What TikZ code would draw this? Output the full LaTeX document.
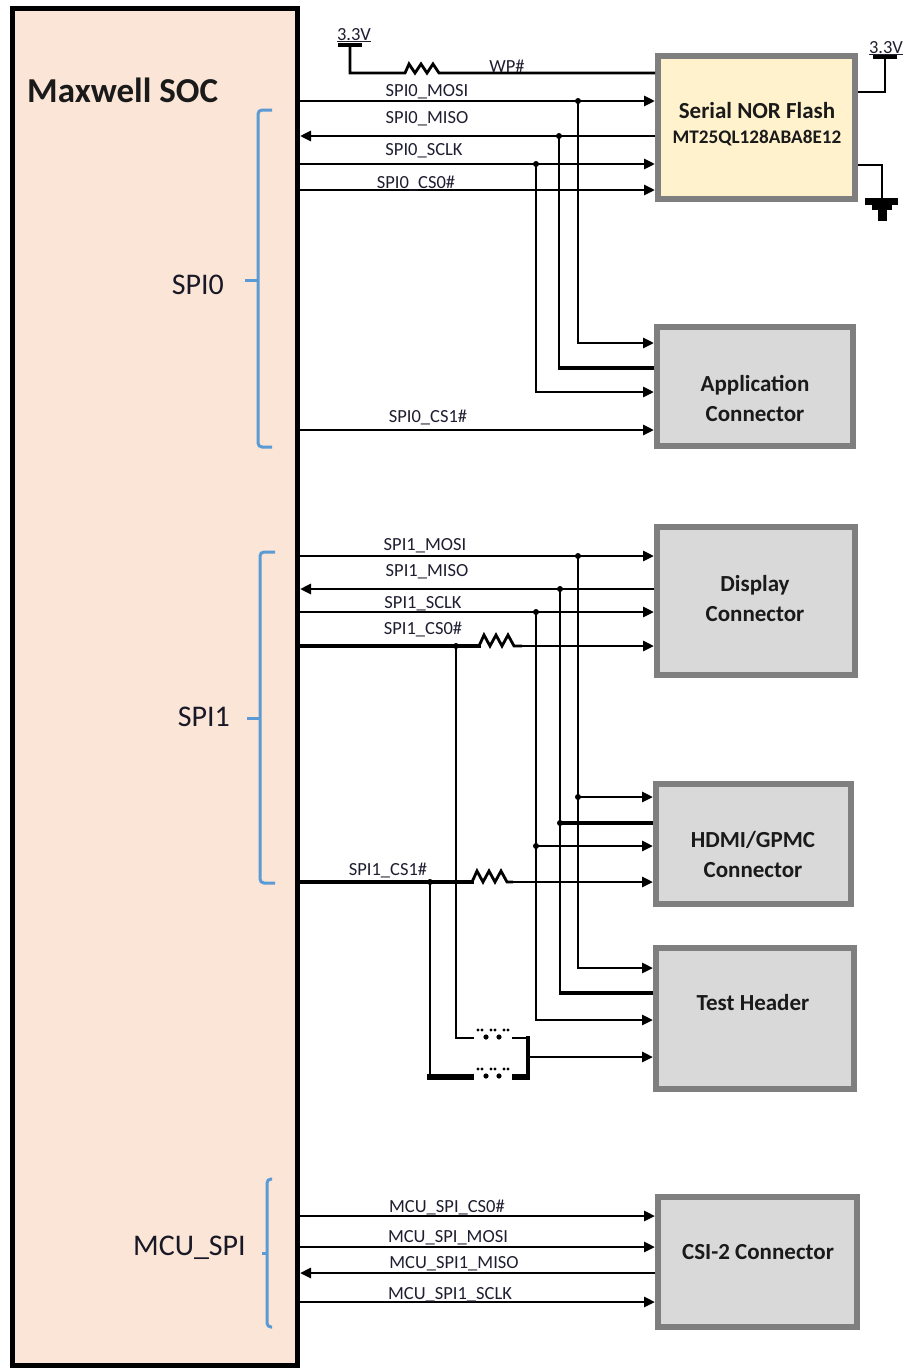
\documentclass[tikz,border=0pt]{standalone}
\usepackage{fontspec}
\setmainfont{Carlito}
\usetikzlibrary{arrows.meta}
\definecolor{socfill}{HTML}{FBE5D6}
\definecolor{flashfill}{HTML}{FFF2CC}
\definecolor{boxfill}{HTML}{D9D9D9}
\definecolor{boxline}{HTML}{7F7F7F}
\definecolor{bracecol}{HTML}{5B9BD5}
\definecolor{txt}{HTML}{1E1E30}
\definecolor{btxt}{HTML}{1A1A1A}
\tikzset{
  wire/.style={line width=2.8pt, line join=miter},
  thickw/.style={line width=4.4pt},
  sig/.style={wire, -{Triangle[length=11pt,width=10pt]}},
  sigback/.style={wire, -{Triangle[length=11pt,width=10pt]}},
  gbox/.style={draw=boxline, fill=boxfill, line width=6pt, inner sep=0pt},
  lbl/.style={font=\fontsize{18.5}{18.5}\selectfont, text=txt, inner sep=0pt, anchor=base},
  boxtxt/.style={font=\bfseries\fontsize{23}{30}\selectfont, text=btxt, align=center, inner sep=0pt},
  grp/.style={font=\fontsize{30}{30}\selectfont, text=txt!80!black, inner sep=0pt, anchor=east},
  brace/.style={draw=bracecol, line width=3pt, rounded corners=4pt},
  dot/.style={circle, fill=black, inner sep=0pt, minimum size=6pt}
}
\begin{document}
\begin{tikzpicture}[x=1pt,y=-1pt]
\useasboundingbox (0,0) rectangle (906,1368);

% SOC
\node[draw=black, line width=5pt, fill=socfill, minimum width=285pt, minimum height=1357pt, inner sep=0pt] (soc) at (155,686.5) {};
\node[font=\bfseries\fontsize{35}{35}\selectfont, text=btxt, inner sep=0pt, anchor=base west] (soctitle) at (27,102) {Maxwell SOC};

% group braces
\draw[brace] (272,110) -- (258,110) -- (258,447) -- (272,447);
\draw[brace, rounded corners=0pt] (258,280) -- (245,280);
\node[grp] (g0) at (224,285) {SPI0};
\draw[brace] (275,552) -- (260,552) -- (260,883) -- (275,883);
\draw[brace, rounded corners=0pt] (260,718) -- (247,718);
\node[grp] (g1) at (230,717) {SPI1};
\draw[brace] (272,1179) -- (267,1179) -- (267,1327) -- (272,1327);
\draw[brace, rounded corners=0pt] (267,1253) -- (262,1253);
\node[grp] (g2) at (246,1248) {MCU\_SPI};

% boxes
\node[draw=boxline, fill=flashfill, line width=6pt, inner sep=0pt, minimum width=197pt, minimum height=143pt] (flash) at (756.5,127.5) {};
\node[font=\bfseries\fontsize{23}{23}\selectfont, text=btxt, inner sep=0pt] (fl1) at (757,111) {Serial NOR Flash};
\node[font=\bfseries\fontsize{19.2}{19.2}\selectfont, text=btxt, inner sep=0pt] (fl2) at (757,138) {MT25QL128ABA8E12};

\node[gbox, minimum width=196pt, minimum height=119pt] (app) at (755,386.5) {};
\node[boxtxt] (applbl) at (755,398) {Application\\Connector};
\node[gbox, minimum width=198pt, minimum height=148pt] (disp) at (756,601) {};
\node[boxtxt] (displbl) at (755,599) {Display\\Connector};
\node[gbox, minimum width=195pt, minimum height=120pt] (hdmi) at (753.5,844) {};
\node[boxtxt] (hdmilbl) at (753,855) {HDMI/GPMC\\Connector};
\node[gbox, minimum width=198pt, minimum height=141pt] (test) at (755,1018.5) {};
\node[boxtxt] (testlbl) at (753,1003) {Test Header};
\node[gbox, minimum width=199pt, minimum height=130pt] (csi) at (757.5,1262) {};
\node[boxtxt] (csilbl) at (758,1252) {CSI-2 Connector};

% power and ground for flash
\draw[line width=4.5pt] (338,45) -- (362,45);
\node[lbl] (v1) at (354,40) {\underline{3.3V}};
\coordinate (wp) at (350,73);
\draw[wire] (350,45) -- (wp) -- (405,73) -- ++(4,-9) -- ++(6,9) -- ++(6,-9) -- ++(6,9) -- ++(6,-9) -- ++(6,9) -- (flash.west |- wp);
\node[lbl] (wplbl) at (507,72) {WP\#};
\draw[line width=4.5pt] (873,57) -- (897,57);
\node[lbl] (v2) at (886,53) {\underline{3.3V}};
\coordinate (pw) at (885,92);
\draw[wire] (885,57) -- (pw) -- (flash.east |- pw);
\coordinate (gn) at (882,165);
\draw[wire] (flash.east |- gn) -- (gn) -- (882,199);
\fill (865,198) rectangle (898,205);
\fill (872,205) rectangle (892,210);
\fill (878,210) rectangle (887,221);

% SPI0
\coordinate (a1) at (578,101);
\coordinate (a2) at (559,136);
\coordinate (a3) at (536,164);
\coordinate (a4) at (0,190);
\coordinate (a5) at (578,343);
\coordinate (a6) at (559,368);
\coordinate (a7) at (536,392);
\coordinate (a8) at (0,430);
\draw[sig] (soc.east |- a1) -- (flash.west |- a1);
\draw[sigback] (flash.west |- a2) -- (soc.east |- a2);
\draw[sig] (soc.east |- a3) -- (flash.west |- a3);
\draw[sig] (soc.east |- a4) -- (flash.west |- a4);
\draw[sig] (a1) |- (app.west |- a5);
\draw[wire] (a2) -- (559,368);
\draw[thickw] (557.6,368) -- (app.west |- a6);
\draw[sig] (a3) |- (app.west |- a7);
\draw[sig] (soc.east |- a8) -- (app.west |- a8);
\node[lbl] (l1) at (427,96) {SPI0\_MOSI};
\node[lbl] (l2) at (427,123) {SPI0\_MISO};
\node[lbl] (l3) at (424,155) {SPI0\_SCLK};
\node[lbl] (l4) at (416,188) {SPI0\_CS0\#};
\node[lbl] (l5) at (428,422) {SPI0\_CS1\#};

% SPI1
\coordinate (b1) at (578,556);
\coordinate (b2) at (560,589);
\coordinate (b3) at (536,612);
\coordinate (b4) at (456,646);
\coordinate (h1) at (578,797);
\coordinate (h2) at (560,823);
\coordinate (h3) at (536,846);
\coordinate (b5) at (430,882);
\coordinate (t1) at (578,968);
\coordinate (t2) at (560,993);
\coordinate (t3) at (536,1020);
\coordinate (jr) at (528,1057);
\draw[sig] (soc.east |- b1) -- (disp.west |- b1);
\draw[sigback] (disp.west |- b2) -- (soc.east |- b2);
\draw[sig] (soc.east |- b3) -- (disp.west |- b3);
\draw[thickw] (soc.east |- b4) -- (481,646);
\draw[wire] (479,646) -- ++(5,-11) -- ++(6,11) -- ++(6,-11) -- ++(6,11) -- ++(6,-11) -- ++(6,11) -- (522,646);
\draw[sig] (521,646) -- (disp.west |- b4);
\draw[wire] (b1) -- (h1);
\draw[sig] (h1) -- (hdmi.west |- h1);
\draw[sig] (h1) |- (test.west |- t1);
\draw[wire] (b2) -- (h2);
\draw[thickw] (h2) -- (hdmi.west |- h2);
\draw[wire] (h2) -- (560,993);
\draw[thickw] (558.6,993) -- (test.west |- t2);
\draw[wire] (b3) -- (h3);
\draw[sig] (h3) -- (hdmi.west |- h3);
\draw[sig] (h3) |- (test.west |- t3);
\draw[thickw] (soc.east |- b5) -- (474,882);
\draw[wire] (472,882) -- ++(5,-11) -- ++(6,11) -- ++(6,-11) -- ++(6,11) -- ++(6,-11) -- ++(6,11) -- (513,882);
\draw[sig] (512,882) -- (hdmi.west |- b5);
% jumpers (option links)
\draw[wire] (b4) -- (456,1038) -- (474,1038);
\draw[wire] (512,1038) -- (528,1038);
\draw[thickw] (528,1036) -- (528,1080);
\draw[line width=6pt] (530,1077) -- (512,1077);
\draw[line width=6pt] (474,1077) -- (427,1077);
\draw[wire] (430,1074) -- (b5);
\draw[sig] (jr) -- (test.west |- jr);
\foreach \yy in {1038,1077}{
  \foreach \xx in {480,493,506}{
    \fill (\xx-2,\yy-8) circle (1.6pt);
    \fill (\xx+2,\yy-8) circle (1.6pt);
  }
  \foreach \xx in {486,499}{
    \fill (\xx,\yy-1) circle (2.6pt);
  }
}
\node[lbl] (l6) at (425,550) {SPI1\_MOSI};
\node[lbl] (l7) at (427,576) {SPI1\_MISO};
\node[lbl] (l8) at (423,608) {SPI1\_SCLK};
\node[lbl] (l9) at (423,634) {SPI1\_CS0\#};
\node[lbl] (l10) at (388,875) {SPI1\_CS1\#};

% junction dots
\foreach \p in {a1,a2,a3,b1,b2,b3,b4,h1,h2,h3,b5}{\node[dot] at (\p) {};}

% MCU SPI
\coordinate (m1) at (0,1216);
\coordinate (m2) at (0,1247);
\coordinate (m3) at (0,1273);
\coordinate (m4) at (0,1302);
\draw[sig] (soc.east |- m1) -- (csi.west |- m1);
\draw[sig] (soc.east |- m2) -- (csi.west |- m2);
\draw[sigback] (csi.west |- m3) -- (soc.east |- m3);
\draw[sig] (soc.east |- m4) -- (csi.west |- m4);
\node[lbl] (l11) at (447,1212) {MCU\_SPI\_CS0\#};
\node[lbl] (l12) at (448,1242) {MCU\_SPI\_MOSI};
\node[lbl] (l13) at (454,1268) {MCU\_SPI1\_MISO};
\node[lbl] (l14) at (450,1299) {MCU\_SPI1\_SCLK};
\end{tikzpicture}
\end{document}
